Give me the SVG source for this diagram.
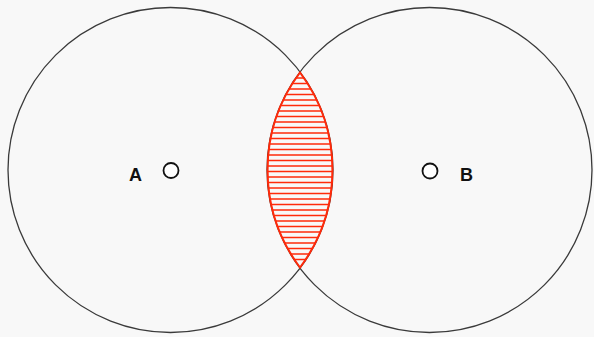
<svg xmlns="http://www.w3.org/2000/svg" width="594" height="337" viewBox="0 0 594 337">
<defs>
<style>
.big{fill:none;stroke:#3a3a3a;stroke-width:1.3}
.ctr{fill:#fff;stroke:#111;stroke-width:1.8}
.lbl{font-family:"Liberation Sans",Arial,sans-serif;font-weight:bold;font-size:18px;fill:#111;text-anchor:middle}
.hatch line{stroke:#ff2a0a;stroke-width:1.4}
</style>
<clipPath id="lensClip"><path d="M300,72.5 A162.8,162.8 0 0 0 300,267.5 A162.8,162.8 0 0 0 300,72.5 Z"/></clipPath>
</defs>
<rect width="594" height="337" fill="#f8f8f8"/>
<g id="circleA"><circle class="big" cx="170.5" cy="170" r="162.5"/></g>
<g id="circleB"><circle class="big" cx="429.5" cy="170" r="162.5"/></g>
<g id="intersection">
<g class="hatch" clip-path="url(#lensClip)">
<line x1="260" y1="78" x2="340" y2="78"/>
<line x1="260" y1="83.5" x2="340" y2="83.5"/>
<line x1="260" y1="89" x2="340" y2="89"/>
<line x1="260" y1="94.5" x2="340" y2="94.5"/>
<line x1="260" y1="100" x2="340" y2="100"/>
<line x1="260" y1="105.5" x2="340" y2="105.5"/>
<line x1="260" y1="111" x2="340" y2="111"/>
<line x1="260" y1="116.5" x2="340" y2="116.5"/>
<line x1="260" y1="122" x2="340" y2="122"/>
<line x1="260" y1="127.5" x2="340" y2="127.5"/>
<line x1="260" y1="133" x2="340" y2="133"/>
<line x1="260" y1="138.5" x2="340" y2="138.5"/>
<line x1="260" y1="144" x2="340" y2="144"/>
<line x1="260" y1="149.5" x2="340" y2="149.5"/>
<line x1="260" y1="155" x2="340" y2="155"/>
<line x1="260" y1="160.5" x2="340" y2="160.5"/>
<line x1="260" y1="166" x2="340" y2="166"/>
<line x1="260" y1="171.5" x2="340" y2="171.5"/>
<line x1="260" y1="177" x2="340" y2="177"/>
<line x1="260" y1="182.5" x2="340" y2="182.5"/>
<line x1="260" y1="188" x2="340" y2="188"/>
<line x1="260" y1="193.5" x2="340" y2="193.5"/>
<line x1="260" y1="199" x2="340" y2="199"/>
<line x1="260" y1="204.5" x2="340" y2="204.5"/>
<line x1="260" y1="210" x2="340" y2="210"/>
<line x1="260" y1="215.5" x2="340" y2="215.5"/>
<line x1="260" y1="221" x2="340" y2="221"/>
<line x1="260" y1="226.5" x2="340" y2="226.5"/>
<line x1="260" y1="232" x2="340" y2="232"/>
<line x1="260" y1="237.5" x2="340" y2="237.5"/>
<line x1="260" y1="243" x2="340" y2="243"/>
<line x1="260" y1="248.5" x2="340" y2="248.5"/>
<line x1="260" y1="254" x2="340" y2="254"/>
<line x1="260" y1="259.5" x2="340" y2="259.5"/>
</g>
<path d="M300,72.5 A162.8,162.8 0 0 0 300,267.5 A162.8,162.8 0 0 0 300,72.5 Z" fill="none" stroke="#ff2a0a" stroke-width="2"/>
</g>
<g id="centerA"><circle class="ctr" cx="171" cy="170.5" r="7.5"/><text class="lbl" x="135.5" y="181">A</text></g>
<g id="centerB"><circle class="ctr" cx="430" cy="171" r="7.5"/><text class="lbl" x="466.5" y="181">B</text></g>
</svg>
